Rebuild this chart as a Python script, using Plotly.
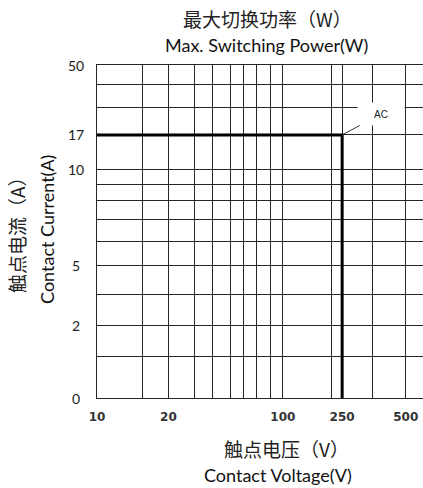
import numpy as np
import plotly.graph_objects as go

# ---- data (schematic scale) ----
volt_tick_vals = [10, 20, 100, 250, 500]
volt_tick_labels = ["10", "20", "100", "250", "500"]
curr_tick_vals = [0, 2, 5, 10, 17, 50]
curr_tick_labels = ["0", "2", "5", "10", "17", "50"]

# limit curve (AC): 17 A up to 250 V
limit_voltage = [10, 250, 250]
limit_current = [17, 17, 0]

# ---- schematic axis layout (percent of plot width / height) ----
volt_tick_pos = [0, 21.9, 57.0, 75.2, 94.7]
curr_tick_pos = [0, 21.9, 39.7, 68.5, 79.0, 100]
x_grid_pos = [0, 14.0, 21.9, 29.8, 35.3, 40.9, 44.9, 49.0, 53.1, 57.0, 72.0, 75.2, 84.4, 94.7]
y_grid_pos = [0, 12.6, 21.9, 31.2, 39.7, 46.9, 53.7, 59.3, 64.0, 68.5, 79.0, 87.2, 94.2, 100]


def vx(v):
    return np.interp(v, volt_tick_vals, volt_tick_pos)


def cy(c):
    return np.interp(c, curr_tick_vals, curr_tick_pos)


x_ticktext = []
for p in x_grid_pos:
    lab = ""
    for tp, tl in zip(volt_tick_pos, volt_tick_labels):
        if abs(tp - p) < 1e-6:
            lab = tl
    x_ticktext.append(lab)

fig = go.Figure()
fig.add_trace(go.Scatter(
    x=vx(limit_voltage), y=cy(limit_current), mode="lines",
    line=dict(color="#000000", width=3), cliponaxis=False,
    hoverinfo="skip", showlegend=False))

grid_col = "#262626"
fig.update_xaxes(
    range=[0, 100], tickmode="array", tickvals=x_grid_pos, ticktext=x_ticktext,
    showgrid=True, gridcolor=grid_col, gridwidth=1, zeroline=False,
    showline=True, linecolor=grid_col, linewidth=1, mirror=True,
    ticks="", ticklabelstandoff=8,
    tickfont=dict(family="DejaVu Sans", size=12, color="#333333", weight="bold"),
    fixedrange=True)
fig.update_yaxes(
    range=[0, 100], tickmode="array", tickvals=y_grid_pos,
    showticklabels=False, showgrid=True, gridcolor=grid_col, gridwidth=1,
    zeroline=False, showline=True, linecolor=grid_col, linewidth=1,
    ticks="", fixedrange=True)

annotations = []
for tl, tv in zip(curr_tick_labels, curr_tick_vals):
    annotations.append(dict(
        text=tl, xref="paper", yref="y", x=-0.064, y=float(cy(tv)),
        xanchor="center", yanchor="middle", showarrow=False,
        font=dict(family="Lato", size=14, color="#222222")))

cjk = "Noto Sans CJK SC"
eng = "Lato"
annotations += [
    dict(text="最大切换功率（W）", xref="paper", yref="paper", x=0.523, y=1.14,
         xanchor="center", yanchor="middle", showarrow=False,
         font=dict(family=cjk, size=19, color="#222222")),
    dict(text="Max. Switching Power(W)", xref="paper", yref="paper", x=0.52, y=1.06,
         xanchor="center", yanchor="middle", showarrow=False,
         font=dict(family=eng, size=18, color="#111111")),
    dict(text="触点电压（V）", xref="paper", yref="paper", x=0.58, y=-0.153,
         xanchor="center", yanchor="middle", showarrow=False,
         font=dict(family=cjk, size=19, color="#222222")),
    dict(text="Contact Voltage(V)", xref="paper", yref="paper", x=0.554, y=-0.231,
         xanchor="center", yanchor="middle", showarrow=False,
         font=dict(family=eng, size=18, color="#111111")),
    dict(text="触点电流（A）", xref="paper", yref="paper", x=-0.245, y=0.505,
         xanchor="center", yanchor="middle", showarrow=False, textangle=-90,
         font=dict(family=cjk, size=19, color="#222222")),
    dict(text="Contact Current(A)", xref="paper", yref="paper", x=-0.153, y=0.505,
         xanchor="center", yanchor="middle", showarrow=False, textangle=-90,
         font=dict(family=eng, size=18, color="#111111")),
    dict(text="AC", xref="x", yref="y", x=float(vx(250)), y=float(cy(17)),
         showarrow=True, arrowhead=0, arrowwidth=1, arrowcolor="#333333",
         ax=39, ay=-21, bgcolor="#ffffff", width=40, height=16, borderpad=3,
         font=dict(family="Liberation Sans", size=10, color="#222222")),
]

fig.update_layout(
    width=423, height=488,
    margin=dict(l=97, r=0, t=65, b=90),
    paper_bgcolor="#ffffff", plot_bgcolor="#ffffff",
    annotations=annotations, showlegend=False)

fig.write_html("out.html", config={"displayModeBar": False},
               post_script="document.body.style.margin='0';"
                           "document.body.style.overflow='hidden';")
